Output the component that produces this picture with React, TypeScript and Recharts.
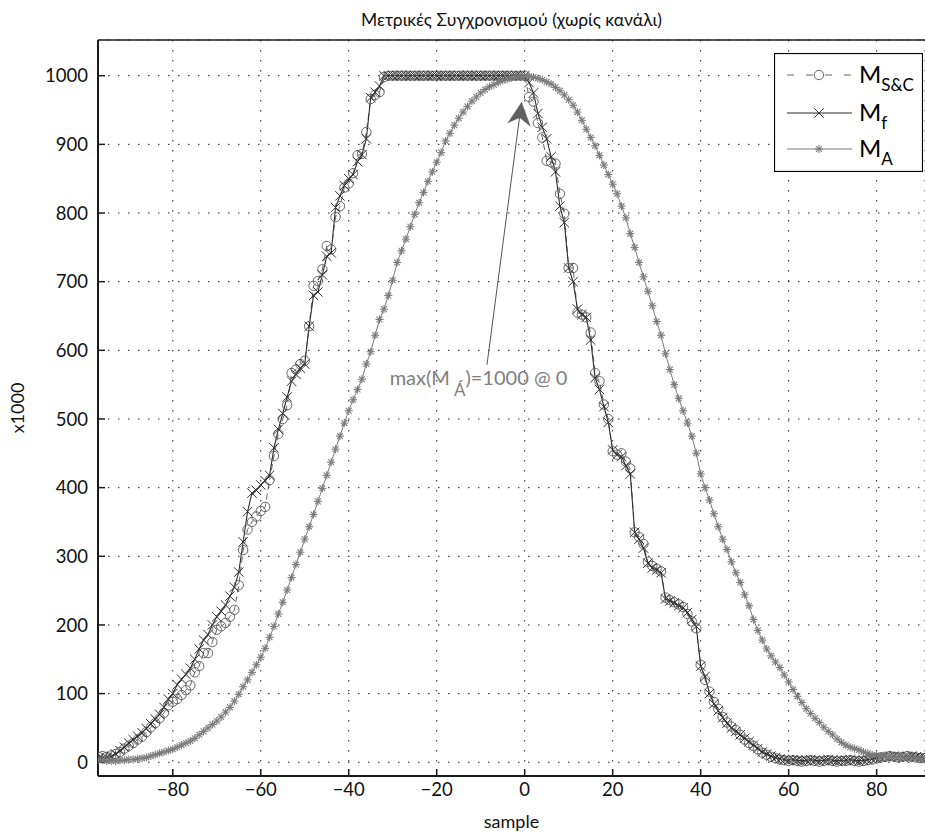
import React from 'react';
import {
  LineChart,
  Line,
  XAxis,
  YAxis,
  CartesianGrid,
  ReferenceLine,
  ReferenceDot,
  Legend,
} from 'recharts';

// ---------- data (read from the reference) ----------
const SAMPLE_START = -97; // first sample index, one value per integer sample

// M_S&C  (circles, dashed)
const mSC: number[] = [
  8, 9, 8, 10, 12, 15, 20, 24, 28, 33, // -97..-88
  37, 44, 51, 57, 64, 72, 83, 88, 92, 98, // -87..-78
  105, 112, 131, 140, 159, 159, 175, 193, 198, 203, // -77..-68
  212, 222, 258, 309, 339, 350, 358, 366, 372, 411, // -67..-58
  446, 478, 500, 520, 567, 572, 580, 585, 635, 694, // -57..-48
  701, 718, 752, 747, 794, 810, 837, 843, 858, 884, // -47..-38
  886, 918, 966, 972, 976, 998, 1000, 1000, 1000, 1000, // -37..-28
  1000, 1000, 1000, 1000, 1000, 1000, 1000, 1000, 1000, 1000, // -27..-18
  1000, 1000, 1000, 1000, 1000, 1000, 1000, 1000, 1000, 1000, // -17..-8
  1000, 1000, 1000, 1000, 1000, 1000, 1000, 1000, 969, 962, // -7..2
  931, 910, 876, 874, 872, 828, 799, 720, 720, 655, // 3..12
  652, 648, 626, 567, 555, 521, 500, 453, 448, 450, // 13..22
  438, 428, 335, 328, 318, 292, 286, 282, 278, 240, // 23..32
  236, 233, 230, 226, 216, 205, 195, 142, 120, 103, // 33..42
  88, 78, 66, 58, 52, 47, 40, 33, 28, 24, // 43..52
  19, 14, 11, 8, 6, 4, 3, 2, 3, 2, // 53..62
  1, 2, 3, 2, 1, 2, 3, 2, 1, 2, // 63..72
  2, 3, 2, 1, 2, 3, 4, 6, 7, 8, // 73..82
  9, 8, 7, 8, 9, 8, 7, 6, 6, // 83..91
];

// M_f  (x marks, solid)
const mF: number[] = [
  5, 6, 7, 8, 12, 17, 22, 28, 33, 38, // -97..-88
  43, 49, 56, 63, 70, 80, 92, 100, 113, 121, // -87..-78
  128, 137, 150, 165, 178, 186, 200, 212, 220, 229, // -77..-68
  242, 255, 277, 321, 365, 392, 396, 404, 410, 418, // -67..-58
  458, 485, 508, 532, 555, 565, 574, 580, 635, 680, // -57..-48
  685, 710, 737, 742, 808, 825, 840, 850, 856, 875, // -47..-38
  885, 908, 968, 976, 985, 1000, 1000, 1000, 1000, 1000, // -37..-28
  1000, 1000, 1000, 1000, 1000, 1000, 1000, 1000, 1000, 1000, // -27..-18
  1000, 1000, 1000, 1000, 1000, 1000, 1000, 1000, 1000, 1000, // -17..-8
  1000, 1000, 1000, 1000, 1000, 1000, 1000, 1000, 990, 975, // -7..2
  945, 925, 908, 882, 860, 810, 786, 720, 700, 660, // 3..12
  652, 648, 615, 560, 543, 518, 495, 455, 448, 445, // 13..22
  432, 420, 335, 325, 312, 290, 283, 280, 276, 238, // 23..32
  235, 232, 228, 225, 218, 208, 198, 140, 125, 100, // 33..42
  85, 75, 65, 57, 50, 45, 40, 35, 30, 25, // 43..52
  20, 15, 12, 9, 7, 5, 4, 3, 4, 3, // 53..62
  2, 3, 4, 3, 2, 3, 4, 3, 2, 3, // 63..72
  3, 4, 3, 2, 3, 4, 5, 6, 7, 8, // 73..82
  8, 9, 8, 7, 8, 9, 8, 7, 6, // 83..91
];

// M_A  (asterisks, solid)
const mA: number[] = [
  3, 3, 2, 2, 2, 3, 3, 4, 4, 5, // -97..-88
  6, 7, 9, 11, 13, 15, 17, 19, 22, 25, // -87..-78
  28, 31, 35, 40, 45, 50, 55, 60, 66, 73, // -77..-68
  80, 89, 99, 110, 120, 131, 142, 153, 166, 182, // -67..-58
  198, 216, 233, 251, 269, 288, 306, 325, 343, 361, // -57..-48
  380, 399, 418, 437, 456, 475, 494, 512, 528, 543, // -47..-38
  558, 580, 598, 622, 645, 660, 680, 702, 728, 745, // -37..-28
  762, 780, 798, 815, 830, 846, 860, 874, 888, 905, // -27..-18
  916, 928, 938, 947, 955, 963, 969, 975, 980, 984, // -17..-8
  987, 990, 993, 995, 997, 998, 999, 1000, 999, 998, // -7..2
  996, 994, 991, 988, 983, 978, 972, 965, 957, 947, // 3..12
  935, 922, 910, 898, 884, 870, 856, 842, 828, 810, // 13..22
  793, 770, 750, 728, 707, 686, 665, 642, 622, 595, // 23..32
  572, 550, 530, 512, 494, 475, 450, 420, 400, 382, // 33..42
  362, 343, 325, 310, 292, 276, 262, 244, 228, 208, // 43..52
  192, 178, 165, 155, 146, 138, 127, 117, 106, 96, // 53..62
  87, 78, 71, 64, 58, 51, 45, 40, 34, 29, // 63..72
  25, 22, 20, 18, 15, 13, 11, 10, 9, 9, // 73..82
  8, 8, 8, 7, 7, 6, 6, 5, 5, // 83..91
];

const xTicks: number[] = [-80, -60, -40, -20, 0, 20, 40, 60, 80];
const yTicks: number[] = [0, 100, 200, 300, 400, 500, 600, 700, 800, 900, 1000];
const xDomain: [number, number] = [-97, 91];
const yDomain: [number, number] = [-20, 1052];

const TITLE = 'Μετρικές Συγχρονισμού (χωρίς κανάλι)';
const X_LABEL = 'sample';
const Y_LABEL = 'x1000';

// annotation (data coordinates)
const annText = { x: -30.7, y: 549 };
const annArrowFrom = { x: -8.57, y: 579 };
const annArrowTip = { x: -0.73, y: 961 };

const data = mF.map((f, i) => ({ s: SAMPLE_START + i, sc: mSC[i], f, a: mA[i] }));

// ---------- styles ----------
const FONT = 'Lato, "Open Sans", "DejaVu Sans", sans-serif';
const SC_COLOR = '#666666';
const F_COLOR = '#2e2e2e';
const A_COLOR = '#7a7a7a';
const AXIS_COLOR = '#1a1a1a';

const fmtX = (v: number) => (v < 0 ? '\u2212' + Math.abs(v) : String(v));

const circleDot = (p: any) => {
  const k = `c${p.index}`;
  if (p.cx == null || p.cy == null) return <g key={k} />;
  return <circle key={k} cx={p.cx} cy={p.cy} r={4.7} fill="none" stroke={SC_COLOR} strokeWidth={1} />;
};

const crossDot = (p: any) => {
  const k = `x${p.index}`;
  if (p.cx == null || p.cy == null) return <g key={k} />;
  const d = 4.7;
  return (
    <g key={k} stroke={F_COLOR} strokeWidth={1}>
      <line x1={p.cx - d} y1={p.cy - d} x2={p.cx + d} y2={p.cy + d} />
      <line x1={p.cx - d} y1={p.cy + d} x2={p.cx + d} y2={p.cy - d} />
    </g>
  );
};

const starDot = (p: any) => {
  const k = `a${p.index}`;
  if (p.cx == null || p.cy == null) return <g key={k} />;
  const d = 4;
  const e = 2.9;
  return (
    <g key={k} stroke={A_COLOR} strokeWidth={1.1}>
      <line x1={p.cx} y1={p.cy - d} x2={p.cx} y2={p.cy + d} />
      <line x1={p.cx - d} y1={p.cy} x2={p.cx + d} y2={p.cy} />
      <line x1={p.cx - e} y1={p.cy - e} x2={p.cx + e} y2={p.cy + e} />
      <line x1={p.cx - e} y1={p.cy + e} x2={p.cx + e} y2={p.cy - e} />
    </g>
  );
};

const legendRows = [
  { main: 'M', sub: 'S&C', color: SC_COLOR, dash: '7 12', marker: 'circle' },
  { main: 'M', sub: 'f', color: F_COLOR, dash: undefined, marker: 'cross' },
  { main: 'M', sub: 'A', color: A_COLOR, dash: undefined, marker: 'star' },
];

const renderLegend = () => {
  const W = 149;
  const H = 119;
  const rowY = [22, 60, 96];
  return (
    <svg width={W} height={H} style={{ display: 'block', fontFamily: FONT }}>
      <rect x={0.5} y={0.5} width={W - 1} height={H - 1} fill="#fff" stroke="#000" strokeWidth={1.2} />
      {legendRows.map((r, i) => {
        const y = rowY[i];
        const mx = 45;
        let m: React.ReactNode = null;
        if (r.marker === 'circle') m = circleDot({ cx: mx, cy: y, index: 'l' + i });
        else if (r.marker === 'cross') m = crossDot({ cx: mx, cy: y, index: 'l' + i });
        else m = starDot({ cx: mx, cy: y, index: 'l' + i });
        return (
          <g key={i}>
            <line x1={13} y1={y} x2={78} y2={y} stroke={r.color} strokeWidth={1} strokeDasharray={r.dash} />
            {m}
            <text x={85} y={y + 8} fontSize={24} fill="#000">
              {r.main}
              <tspan fontSize={17} dy={8}>{r.sub}</tspan>
            </text>
          </g>
        );
      })}
    </svg>
  );
};

const annTextShape = (p: any) => (
  <text x={p.cx} y={p.cy} fill="#808080" fontSize={20} fontFamily={FONT}>
    max(M
    <tspan dx={4} dy={11} fontSize={17}>Á</tspan>
    <tspan dy={-11}>)=1000 @ 0</tspan>
  </text>
);

const arrowHeadShape = (p: any) => {
  const { cx, cy } = p;
  const pts = [
    [cx, cy],
    [cx - 13.5, cy + 20.3],
    [cx - 1.8, cy + 15],
    [cx + 8.9, cy + 23.7],
  ]
    .map((q) => q.join(','))
    .join(' ');
  return <polygon points={pts} fill="#606060" stroke="#606060" strokeWidth={0.5} />;
};

export default function App() {
  return (
    <div
      style={{
        position: 'absolute',
        left: 0,
        top: 0,
        width: 925,
        height: 838,
        background: '#fff',
        fontFamily: FONT,
        overflow: 'hidden',
      }}
    >
      <div
        style={{
          position: 'absolute',
          left: 98,
          width: 827,
          top: 9,
          textAlign: 'center',
          fontSize: 17.5,
          color: '#111',
          lineHeight: '22px',
        }}
      >
        {TITLE}
      </div>
      <LineChart
        width={925}
        height={838}
        data={data}
        margin={{ top: 39, right: 0, bottom: 32, left: 38 }}
      >
        <CartesianGrid stroke="#222" strokeDasharray="1.5 8.5" strokeWidth={1} />
        <XAxis
          xAxisId="top"
          orientation="top"
          type="number"
          domain={xDomain}
          ticks={xTicks}
          allowDataOverflow
          height={1}
          tick={false}
          tickSize={-7}
          axisLine={{ stroke: AXIS_COLOR, strokeWidth: 1.5 }}
          tickLine={{ stroke: AXIS_COLOR, strokeWidth: 1.5 }}
        />
        <XAxis
          type="number"
          dataKey="s"
          domain={xDomain}
          ticks={xTicks}
          interval={0}
          allowDataOverflow
          height={30}
          tickFormatter={fmtX}
          tickSize={-7}
          tickMargin={14}
          tick={{ fill: '#111', fontSize: 18.5 }}
          axisLine={{ stroke: AXIS_COLOR, strokeWidth: 2 }}
          tickLine={{ stroke: AXIS_COLOR, strokeWidth: 1.5 }}
          label={{ value: X_LABEL, position: 'insideBottom', offset: -22, fill: '#111', fontSize: 18 }}
        />
        <YAxis
          type="number"
          domain={yDomain}
          ticks={yTicks}
          interval={0}
          allowDataOverflow
          width={60}
          tickSize={-7}
          tickMargin={17}
          tick={{ fill: '#111', fontSize: 18.5 }}
          axisLine={{ stroke: AXIS_COLOR, strokeWidth: 2 }}
          tickLine={{ stroke: AXIS_COLOR, strokeWidth: 1.5 }}
          label={{ value: Y_LABEL, angle: -90, position: 'insideLeft', offset: -20, fill: '#111', fontSize: 18, style: { textAnchor: 'middle' } }}
        />
        <Legend
          layout="vertical"
          align="center"
          verticalAlign="middle"
          content={renderLegend}
          wrapperStyle={{ position: 'absolute', left: 774, top: 53, width: 149, height: 119 }}
        />
        <Line
          type="linear"
          dataKey="sc"
          name="M_S&C"
          stroke={SC_COLOR}
          strokeWidth={1}
          strokeDasharray="6 4"
          dot={circleDot}
          activeDot={false}
          isAnimationActive={false}
        />
        <Line
          type="linear"
          dataKey="f"
          name="M_f"
          stroke={F_COLOR}
          strokeWidth={1.1}
          dot={crossDot}
          activeDot={false}
          isAnimationActive={false}
        />
        <Line
          type="linear"
          dataKey="a"
          name="M_A"
          stroke={A_COLOR}
          strokeWidth={1}
          dot={starDot}
          activeDot={false}
          isAnimationActive={false}
        />
        <ReferenceLine
          segment={[annArrowFrom, annArrowTip]}
          stroke="#555"
          strokeWidth={1}
        />
        <ReferenceDot x={annArrowTip.x} y={annArrowTip.y} r={1} shape={arrowHeadShape} />
        <ReferenceDot x={annText.x} y={annText.y} r={1} shape={annTextShape} />
      </LineChart>
    </div>
  );
}
